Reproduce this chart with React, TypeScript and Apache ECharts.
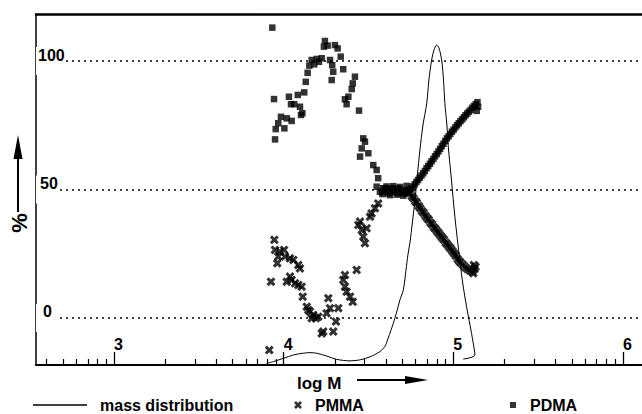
import React, { useEffect, useRef } from "react";
import * as echarts from "echarts";

const FONT = '"Liberation Sans", Arial, Helvetica, sans-serif';

// axis ranges (log M on x, % on y)
const X_MIN = 2.54;
const X_MAX = 6.112;
const Y_MIN = -18.3;
const Y_MAX = 118.3;

const majorTicks = [3, 4, 5, 6];
const minorTicks: number[] = [];
[2, 3, 4, 5].forEach((d) => {
  for (let k = 2; k <= 9; k++) {
    const v = d + Math.log10(k);
    if (v > X_MIN && v < X_MAX) minorTicks.push(v);
  }
});
const yTickValues = [0, 50, 100];

// mass distribution curve [log M, value]
const massDist = [
  [3.9, -17.6], [3.939, -17.0], [3.998, -15.7], [4.057, -14.4], [4.115, -13.7],
  [4.155, -13.5], [4.194, -13.7], [4.253, -14.8], [4.312, -16.1], [4.391, -16.7],
  [4.45, -16.3], [4.509, -15.1], [4.567, -13.1], [4.597, -11.0], [4.616, -7.8],
  [4.646, -2.1], [4.666, 2.3], [4.685, 7.0], [4.705, 10.9], [4.721, 18.7],
  [4.732, 24.5], [4.744, 29.2], [4.759, 37.4], [4.774, 45.9], [4.788, 55.6],
  [4.803, 65.4], [4.821, 75.1], [4.843, 83.5], [4.856, 92.6], [4.872, 100.4],
  [4.886, 104.3], [4.902, 106.2], [4.915, 105.1], [4.931, 100.4], [4.942, 92.6],
  [4.95, 83.5], [4.962, 75.1], [4.97, 66.7], [4.989, 53.7], [5.009, 39.4],
  [5.039, 22.0], [5.057, 12.8], [5.078, 4.4], [5.098, -2.7], [5.116, -9.3],
  [5.127, -14.4], [5.058, -16.0],
];

// PMMA composition points
const pmmaLeft = [
  [3.915, -12.5], [3.925, 14.1], [3.945, 30.4], [3.949, 26.5], [3.962, 21.3],
  [3.968, 23.9], [3.978, 25.8], [4.002, 26.5], [4.008, 23.9], [4.018, 14.1],
  [4.037, 23.2], [4.037, 16.1], [4.047, 14.8], [4.057, 22.6], [4.067, 13.5],
  [4.086, 20.6], [4.086, 12.8], [4.096, 19.3], [4.106, 12.2], [4.112, 8.3],
  [4.136, 4.4], [4.145, 3.1], [4.155, 2.5], [4.165, -0.1], [4.174, 1.2],
  [4.19, -0.1], [4.204, 0.5], [4.224, -6.0], [4.233, -5.3], [4.253, 1.8],
  [4.263, 7.7], [4.273, 3.8], [4.292, -5.3], [4.308, -1.4], [4.322, 3.8],
  [4.351, 14.8], [4.361, 16.7], [4.361, 12.2], [4.371, 10.2], [4.391, 8.3],
  [4.407, 6.3], [4.43, 18.7],
];
const pmmaRise = [
  [4.44, 36.2], [4.45, 37.5], [4.46, 34.2], [4.469, 31.6], [4.479, 29.1],
  [4.489, 34.9], [4.509, 39.4], [4.518, 40.7], [4.538, 42.7], [4.557, 44.6],
  [4.587, 49.1], [4.6, 49.3], [4.625, 49.8], [4.65, 48.9], [4.675, 49.6],
  [4.7, 48.8], [4.722, 49.4], [4.735, 48.6],
];
const pmmaFall = [
  [4.745, 48.6], [4.755, 47.4], [4.765, 46.6], [4.775, 45.5], [4.785, 44.8],
  [4.795, 43.6], [4.805, 42.7], [4.815, 41.6], [4.825, 40.9], [4.835, 39.8],
  [4.845, 38.9], [4.855, 38.2], [4.865, 37.1], [4.875, 36.4], [4.885, 35.3],
  [4.895, 34.6], [4.905, 33.7], [4.915, 32.9], [4.925, 32.0], [4.935, 31.2],
  [4.945, 30.4], [4.955, 29.3], [4.965, 28.6], [4.975, 27.7], [4.985, 26.9],
  [4.995, 26.0], [5.005, 25.1], [5.015, 24.2], [5.025, 23.0], [5.035, 22.1],
  [5.045, 21.4], [5.058, 20.6], [5.07, 19.7], [5.083, 19.1], [5.097, 18.5],
  [5.11, 18.0], [5.118, 17.4], [5.124, 19.0], [5.131, 19.9], [5.121, 20.6],
];

// PDMA composition points
const pdmaLeft = [
  [3.933, 113.0], [4.243, 107.8], [4.237, 105.6], [4.259, 106.0], [4.302, 106.2],
  [4.318, 104.9], [4.336, 101.7], [4.165, 100.4], [4.195, 100.8], [4.224, 101.1],
  [4.18, 98.7], [4.151, 98.2], [4.208, 99.7], [4.286, 98.4], [4.273, 100.4],
  [4.292, 95.8], [4.351, 96.8], [4.141, 95.4], [4.283, 92.6], [4.13, 91.9],
  [4.42, 93.9], [4.407, 91.3], [4.401, 89.1], [4.121, 87.8], [4.083, 86.8],
  [4.031, 86.1], [3.943, 85.2], [4.381, 86.1], [4.361, 85.1], [4.371, 83.2],
  [4.444, 80.7], [4.043, 83.2], [4.062, 83.2], [4.096, 82.2], [4.11, 79.7],
  [4.102, 79.0], [3.984, 78.3], [4.018, 77.7], [4.047, 76.7], [3.968, 75.8],
  [4.004, 73.8], [3.953, 73.5], [3.949, 69.5],
];
const pdmaMid = [
  [4.469, 69.9], [4.479, 68.6], [4.46, 66.0], [4.499, 64.1], [4.45, 62.8],
  [4.528, 59.5], [4.548, 57.6], [4.557, 54.4], [4.587, 50.5], [4.548, 51.1],
  [4.567, 49.1], [4.597, 50.5], [4.616, 48.5], [4.636, 50.5], [4.656, 49.1],
  [4.675, 50.5], [4.695, 48.5], [4.715, 49.8], [4.734, 49.1], [4.582, 48.2],
  [4.606, 51.2], [4.626, 47.8], [4.646, 51.3], [4.666, 48.0], [4.686, 51.0],
  [4.705, 47.6], [4.725, 51.4], [4.742, 50.0],
];
const pdmaRise = [
  [4.752, 50.4], [4.762, 51.2], [4.772, 52.0], [4.782, 52.9], [4.792, 53.7],
  [4.802, 54.6], [4.812, 55.4], [4.822, 56.3], [4.832, 57.2], [4.842, 58.3],
  [4.852, 59.1], [4.862, 60.0], [4.872, 61.0], [4.882, 61.9], [4.892, 62.9],
  [4.902, 63.8], [4.912, 64.8], [4.922, 65.8], [4.932, 66.9], [4.942, 67.8],
  [4.952, 68.9], [4.962, 69.9], [4.972, 70.7], [4.982, 71.6], [4.992, 72.5],
  [5.002, 73.3], [5.012, 74.2], [5.022, 75.0], [5.032, 75.8], [5.042, 76.6],
  [5.052, 77.3], [5.062, 78.1], [5.072, 78.9], [5.082, 79.6], [5.092, 80.3],
  [5.102, 81.0], [5.112, 81.8], [5.122, 82.5], [5.132, 83.2], [5.142, 84.0],
  [5.146, 82.2], [5.138, 80.6],
];

const X_SYMBOL = "path://M0,2.4L2.4,0L5,2.6L7.6,0L10,2.4L7.4,5L10,7.6L7.6,10L5,7.4L2.4,10L0,7.6L2.6,5Z";

export default function App() {
  const ref = useRef<HTMLDivElement>(null);
  useEffect(() => {
    if (!ref.current) return;
    const chart = echarts.init(ref.current, null, { renderer: "svg" });
    const baseX = {
      type: "value",
      min: X_MIN,
      max: X_MAX,
      splitLine: { show: false },
    };
    const legendText = {
      fontSize: 16,
      fontWeight: "bold",
      color: "#000",
      fontFamily: FONT,
    };
    chart.setOption({
      animation: false,
      grid: { left: 36, right: 0, top: 14, bottom: 49, containLabel: false, outerBoundsMode: "none" },
      xAxis: [
        {
          ...baseX,
          position: "bottom",
          axisLine: { show: true, onZero: false, lineStyle: { color: "#000", width: 2 } },
          axisTick: { show: true, inside: true, length: 13, customValues: majorTicks, lineStyle: { color: "#000", width: 1.3 } },
          axisLabel: {
            show: true,
            inside: true,
            customValues: majorTicks,
            align: "left",
            margin: 13,
            fontSize: 16,
            fontWeight: "bold",
            color: "#000",
            fontFamily: FONT,
            formatter: (v: number) => String(v),
          },
        },
        {
          ...baseX,
          position: "bottom",
          axisLine: { show: false, onZero: false },
          axisTick: { show: true, inside: true, length: 6, customValues: minorTicks, lineStyle: { color: "#000", width: 1.2 } },
          axisLabel: { show: false },
        },
        {
          ...baseX,
          position: "top",
          axisLine: { show: true, onZero: false, lineStyle: { color: "#000", width: 2.5 } },
          axisTick: { show: false },
          axisLabel: { show: false },
        },
      ],
      yAxis: {
        type: "value",
        min: Y_MIN,
        max: Y_MAX,
        axisLine: { show: true, onZero: false, lineStyle: { color: "#000", width: 1.5 } },
        axisTick: { show: false, customValues: yTickValues },
        splitLine: { show: true, lineStyle: { type: [2, 4], color: "#000", width: 1.6 } },
        axisLabel: {
          show: true,
          inside: true,
          customValues: yTickValues,
          margin: 0,
          align: "left",
          verticalAlign: "middle",
          lineHeight: 16,
          padding: [0, 0, 12, 0],
          backgroundColor: "#fff",
          fontSize: 16,
          fontWeight: "bold",
          color: "#000",
          fontFamily: FONT,
          formatter: (v: number) => (v === 100 ? "{a|100}" : v === 50 ? "{b|50}" : "{c|0}"),
          rich: {
            a: { padding: [0, 1, 0, 2], fontSize: 16, fontWeight: "bold", fontFamily: FONT, color: "#000" },
            b: { padding: [0, 2, 0, 4], fontSize: 16, fontWeight: "bold", fontFamily: FONT, color: "#000" },
            c: { padding: [0, 4, 0, 7], fontSize: 16, fontWeight: "bold", fontFamily: FONT, color: "#000" },
          },
        },
      },
      legend: [
        {
          data: [{ name: "mass distribution", icon: "rect" }],
          left: 33,
          top: 397,
          padding: 0,
          itemWidth: 54,
          itemHeight: 1.5,
          selectedMode: false,
          textStyle: { ...legendText, padding: [0, 0, 0, 8] },
        },
        {
          data: [{ name: "PMMA", icon: X_SYMBOL }],
          left: 294,
          top: 397,
          padding: 0,
          itemWidth: 8,
          itemHeight: 8,
          selectedMode: false,
          textStyle: { ...legendText, padding: [0, 0, 0, 8] },
        },
        {
          data: [{ name: "PDMA", icon: "rect" }],
          left: 510,
          top: 397,
          padding: 0,
          itemWidth: 6,
          itemHeight: 6,
          selectedMode: false,
          textStyle: { ...legendText, padding: [0, 0, 0, 9] },
        },
      ],
      series: [
        {
          name: "mass distribution",
          type: "line",
          data: massDist,
          symbol: "none",
          showSymbol: false,
          smooth: 0.3,
          lineStyle: { color: "#000", width: 1 },
          itemStyle: { color: "#000" },
          z: 2,
        },
        {
          name: "PMMA",
          type: "scatter",
          data: [...pmmaLeft, ...pmmaRise, ...pmmaFall],
          symbol: X_SYMBOL,
          symbolSize: 9,
          itemStyle: { color: "#000" },
          z: 3,
        },
        {
          name: "PDMA",
          type: "scatter",
          data: [...pdmaLeft, ...pdmaMid, ...pdmaRise],
          symbol: "rect",
          symbolSize: 6.5,
          itemStyle: { color: "#000" },
          z: 4,
        },
      ],
      graphic: [
        {
          type: "text",
          x: 297,
          y: 383,
          style: { text: "log M", fontSize: 17, fontWeight: "bold", fontFamily: FONT, fill: "#000", align: "left", verticalAlign: "middle" },
        },
        { type: "line", shape: { x1: 357, y1: 380, x2: 410, y2: 380 }, style: { stroke: "#000", lineWidth: 2 } },
        { type: "polygon", shape: { points: [[405, 376], [428, 380], [405, 384]] }, style: { fill: "#000" } },
        {
          type: "text",
          x: 19,
          y: 223,
          rotation: Math.PI / 2,
          style: { text: "%", fontSize: 22, fontWeight: "bold", fontFamily: FONT, fill: "#000", align: "center", verticalAlign: "middle" },
        },
        { type: "line", shape: { x1: 18, y1: 212, x2: 18, y2: 155 }, style: { stroke: "#000", lineWidth: 2 } },
        { type: "polygon", shape: { points: [[13.5, 159], [18, 135], [22.5, 159]] }, style: { fill: "#000" } },
      ],
    });
    return () => chart.dispose();
  }, []);
  return <div ref={ref} style={{ width: 642, height: 414, position: "absolute", left: 0, top: 0 }} />;
}
